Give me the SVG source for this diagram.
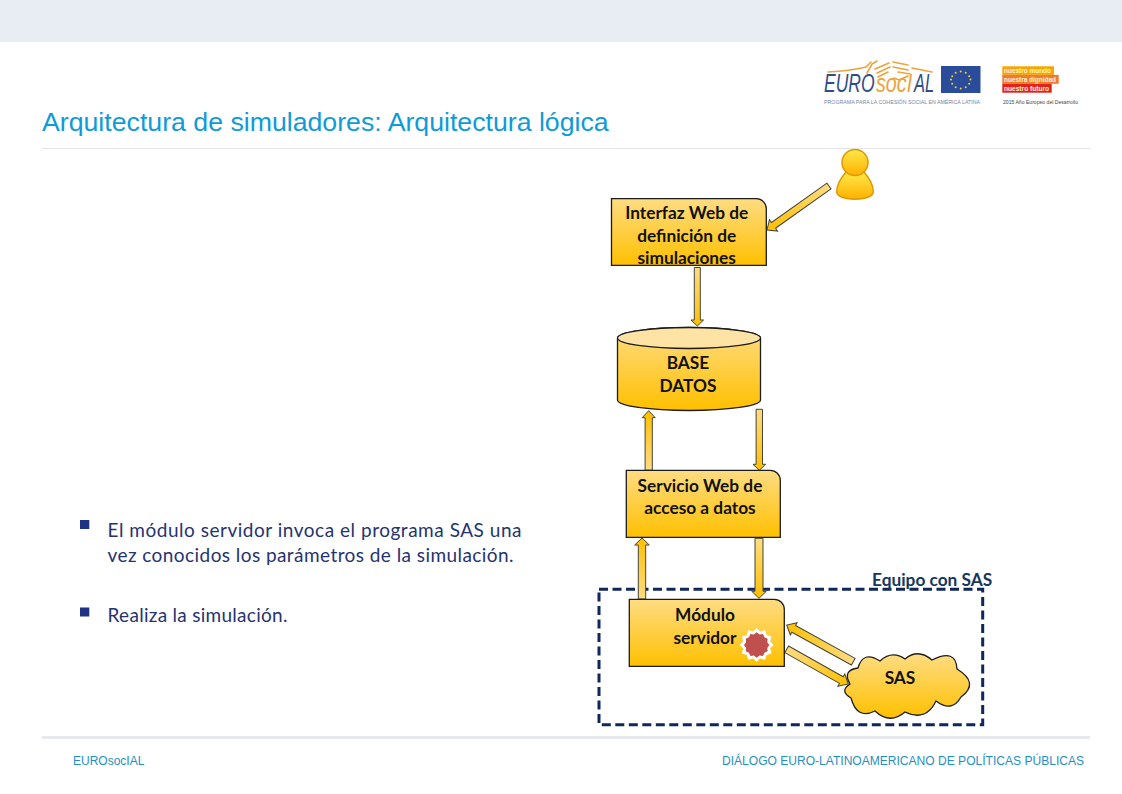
<svg xmlns="http://www.w3.org/2000/svg" width="1122" height="794" viewBox="0 0 1122 794">
<style>
.n{fill:url(#nodeFill);stroke:#1c1c1c;stroke-width:1.3}
.t{font:bold 17.3px Lato,"Liberation Sans",sans-serif;fill:#111;text-anchor:middle}
.b{font:19px Lato,"Liberation Sans",sans-serif;fill:#26336f}
.a{fill:url(#arrowFill);stroke:#44443a;stroke-width:1}
.f{font:12px "Liberation Sans",Arial,sans-serif;fill:#1f8fc4}
.hand{fill:none;stroke:#eda33c;stroke-width:1.6;stroke-linecap:round}
.tag{font:bold 7.5px "Liberation Sans",Arial,sans-serif;fill:#fff3d8}
.logo{font-family:"Liberation Sans",Arial,sans-serif;font-style:italic;font-size:25px}
</style>
<defs>
<linearGradient id="nodeFill" x1="0" y1="0" x2="0" y2="1"><stop offset="0" stop-color="#fedc82"/><stop offset="1" stop-color="#ffc000"/></linearGradient>
<linearGradient id="arrowFill" x1="0" y1="0" x2="1" y2="0"><stop offset="0" stop-color="#fedc82"/><stop offset="1" stop-color="#ffc000"/></linearGradient>
<linearGradient id="person" x1="0" y1="0" x2="0" y2="1"><stop offset="0" stop-color="#ffe94a"/><stop offset="1" stop-color="#ffb000"/></linearGradient>
</defs>
<rect width="1122" height="794" fill="#fff"/>
<rect width="1122" height="42" fill="#e8edf3"/>
<text x="42" y="131" font-family="Liberation Sans,Arial,sans-serif" font-size="26.700" fill="#0f9bd7">Arquitectura de simuladores: Arquitectura lógica</text>
<rect x="42" y="148" width="1048" height="1" fill="#e4e6ea"/>
<rect x="42" y="736" width="1048" height="3" fill="#e6e8ee"/>
<text class="f" x="73" y="765">EUROsocIAL</text>
<text class="f" x="722" y="765" textLength="362" lengthAdjust="spacingAndGlyphs">DIÁLOGO EURO-LATINOAMERICANO DE POLÍTICAS PÚBLICAS</text>

<g id="logo">
<path class="hand" d="M828 72Q850 71 866 67L871 62M867 73L872 64 877 61M875 69L889 63M877 73L890 67M878 77L888 72M893 62L908 65M893 67L908 70M898 72L910 74M908 76L899 80 894 78M912 68L932 72"/>
<text class="logo" transform="translate(824 92) scale(.7 1)" fill="#2f4e86">EURO</text>
<text class="logo" transform="translate(876 92) scale(.79 1)" fill="#eda33c">socI</text>
<text class="logo" transform="translate(914 92) scale(.66 1)" fill="#2f4e86">AL</text>
<text x="824" y="104" font-family="Liberation Sans,Arial,sans-serif" font-size="6" textLength="156" lengthAdjust="spacingAndGlyphs" fill="#7386a5">PROGRAMA PARA LA COHESIÓN SOCIAL EN AMÉRICA LATINA</text>
<rect x="941" y="66" width="39.500" height="27" fill="#2b4c9b"/>
<g fill="#f5d327"><circle cx="960.700" cy="71.500" r="1"/><circle cx="965.700" cy="72.800" r="1"/><circle cx="969.200" cy="76.300" r="1"/><circle cx="970.500" cy="79.500" r="1"/><circle cx="969.200" cy="83.700" r="1"/><circle cx="965.700" cy="87.200" r="1"/><circle cx="960.700" cy="88.500" r="1"/><circle cx="955.700" cy="87.200" r="1"/><circle cx="952.200" cy="83.700" r="1"/><circle cx="951" cy="79.500" r="1"/><circle cx="952.200" cy="76.300" r="1"/><circle cx="955.700" cy="72.800" r="1"/></g>
<rect x="1002.300" y="66.300" width="51.700" height="8.600" fill="#f7a600"/>
<rect x="1002.300" y="74.900" width="56.400" height="8.900" fill="#ee7b30"/>
<rect x="1002.300" y="83.800" width="49.400" height="8.900" fill="#e2231a"/>
<text class="tag" x="1004" y="73" textLength="47" lengthAdjust="spacingAndGlyphs">nuestro mundo</text>
<text class="tag" x="1004" y="81.800" textLength="52" lengthAdjust="spacingAndGlyphs">nuestra dignidad</text>
<text class="tag" x="1004" y="90.700" textLength="45" lengthAdjust="spacingAndGlyphs">nuestro futuro</text>
<text x="1003" y="103.500" font-family="Liberation Sans,Arial,sans-serif" font-size="6" textLength="75" lengthAdjust="spacingAndGlyphs" fill="#444">2015 Año Europeo del Desarrollo</text>
</g>

<g id="bullets">
<rect x="80" y="520" width="9.300" height="9" fill="#1f3385"/>
<text class="b" x="107.500" y="536.500" textLength="414" lengthAdjust="spacing">El módulo servidor invoca el programa SAS una</text>
<text class="b" x="107.500" y="561.500" textLength="406" lengthAdjust="spacing">vez conocidos los parámetros de la simulación.</text>
<rect x="80" y="607.500" width="9.300" height="9" fill="#1f3385"/>
<text class="b" x="107.500" y="622" textLength="180" lengthAdjust="spacing">Realiza la simulación.</text>
</g>

<g id="equipo">
<rect x="599" y="589.300" width="383.700" height="135.400" fill="none" stroke="#10275c" stroke-width="3" stroke-dasharray="9 4.500"/>
<text x="872" y="586" font-family="Lato,Liberation Sans,sans-serif" font-weight="700" font-size="17.300" fill="#17375e">Equipo con SAS</text>
</g>

<g id="connectors">
<polygon class="a" transform="translate(767 230) rotate(144.600)" points="0,0 -8,-7 -8,-3.500 -76,-3.500 -76,3.500 -8,3.500 -8,7"/>
<polygon class="a" transform="translate(697.300 326) rotate(90)" points="0,0 -6,-6.300 -6,-3 -58.500,-3 -58.500,3 -6,3 -6,6.300"/>
<polygon class="a" transform="translate(648.700 410.700) rotate(-90)" points="0,0 -7,-6.500 -7,-3.600 -59.500,-3.600 -59.500,3.600 -7,3.600 -7,6.500"/>
<polygon class="a" transform="translate(759.300 470.300) rotate(90)" points="0,0 -6,-6.300 -6,-3.200 -61,-3.200 -61,3.200 -6,3.200 -6,6.300"/>
<polygon class="a" transform="translate(642 538) rotate(-90)" points="0,0 -7,-7.300 -7,-3.700 -61,-3.700 -61,3.700 -7,3.700 -7,7.300"/>
<polygon class="a" transform="translate(759 598.300) rotate(90)" points="0,0 -7,-7.300 -7,-4 -60,-4 -60,4 -7,4 -7,7.300"/>
<polygon class="a" transform="translate(786.700 625) rotate(208.900)" points="0,0 -8,-7 -8,-3.800 -76,-3.800 -76,3.800 -8,3.800 -8,7"/>
<polygon class="a" transform="translate(848.300 684) rotate(29.400)" points="0,0 -8,-7 -8,-3.800 -70.700,-3.800 -70.700,3.800 -8,3.800 -8,7"/>
</g>

<g id="usuario">
<path d="M846 172C840 179 836.500 186 836.700 192C837 197 846 199.300 855 199.300C864 199.300 873 197 873.300 192C873.500 186 870 179 864 172Z" fill="url(#person)" stroke="#dd9a00" stroke-width="1.500"/>
<circle cx="855" cy="162.500" r="13" fill="url(#person)" stroke="#dd9a00" stroke-width="1.500"/>
</g>

<g id="interfaz">
<path class="n" d="M611.500 198.700H756.300A10 10 0 0 1 766.300 208.700V265.300H611.500Z"/>
<text class="t"><tspan x="686.700" y="219.300">Interfaz Web de</tspan><tspan x="686.700" y="241.700">definición de</tspan><tspan x="686.700" y="264">simulaciones</tspan></text>
</g>

<g id="base-datos">
<path class="n" d="M617.500 338A71.500 10.500 0 0 1 760.500 338V400A71.500 10.500 0 0 1 617.500 400Z"/>
<ellipse cx="689" cy="338" rx="71.500" ry="10.500" fill="#fee3a5" stroke="#1c1c1c" stroke-width="1.300"/>
<text class="t"><tspan x="688" y="368.500">BASE</tspan><tspan x="688" y="391.500">DATOS</tspan></text>
</g>

<g id="servicio">
<path class="n" d="M626.300 470.300H770.300A10 10 0 0 1 780.300 480.300V537.300H626.300Z"/>
<text class="t"><tspan x="700" y="491.700">Servicio Web de</tspan><tspan x="700" y="514.300">acceso a datos</tspan></text>
</g>

<g id="modulo">
<path class="n" d="M629.300 599.300H774.300A10 10 0 0 1 784.300 609.300V666.300H629.300Z"/>
<text class="t"><tspan x="705" y="620.700">Módulo</tspan><tspan x="705" y="644">servidor</tspan></text>
<polygon transform="translate(756.700 645)" fill="#fff" stroke="#fff" stroke-linejoin="round" points="16.500,0 13,3.500 14.300,8.200 9.500,9.500 8.200,14.300 3.500,13 0,16.500 -3.500,13 -8.200,14.300 -9.500,9.500 -14.300,8.200 -13,3.500 -16.500,0 -13,-3.500 -14.300,-8.200 -9.500,-9.500 -8.200,-14.300 -3.500,-13 0,-16.500 3.500,-13 8.200,-14.300 9.500,-9.500 14.300,-8.200 13,-3.500"/>
<polygon transform="translate(756.700 645) scale(1.150)" fill="#c0504d" points="11,0 9.200,2.500 9.500,5.500 6.700,6.700 5.500,9.500 2.500,9.200 0,11 -2.500,9.200 -5.500,9.500 -6.700,6.700 -9.500,5.500 -9.200,2.500 -11,0 -9.200,-2.500 -9.500,-5.500 -6.700,-6.700 -5.500,-9.500 -2.500,-9.200 0,-11 2.500,-9.200 5.500,-9.500 6.700,-6.700 9.500,-5.500 9.200,-2.500"/>
</g>

<g id="sas">
<path class="n" d="M850 684Q842 670 858 668Q863 650 880 661Q892 650 905 659Q918 648 932 660Q956 648 957 669Q980 683 961 697Q952 713 936 701Q926 722 905 712Q890 725 875 711Q857 720 851 698Q839 691 850 684Z"/>
<text class="t" x="900" y="684.300">SAS</text>
</g>
</svg>
